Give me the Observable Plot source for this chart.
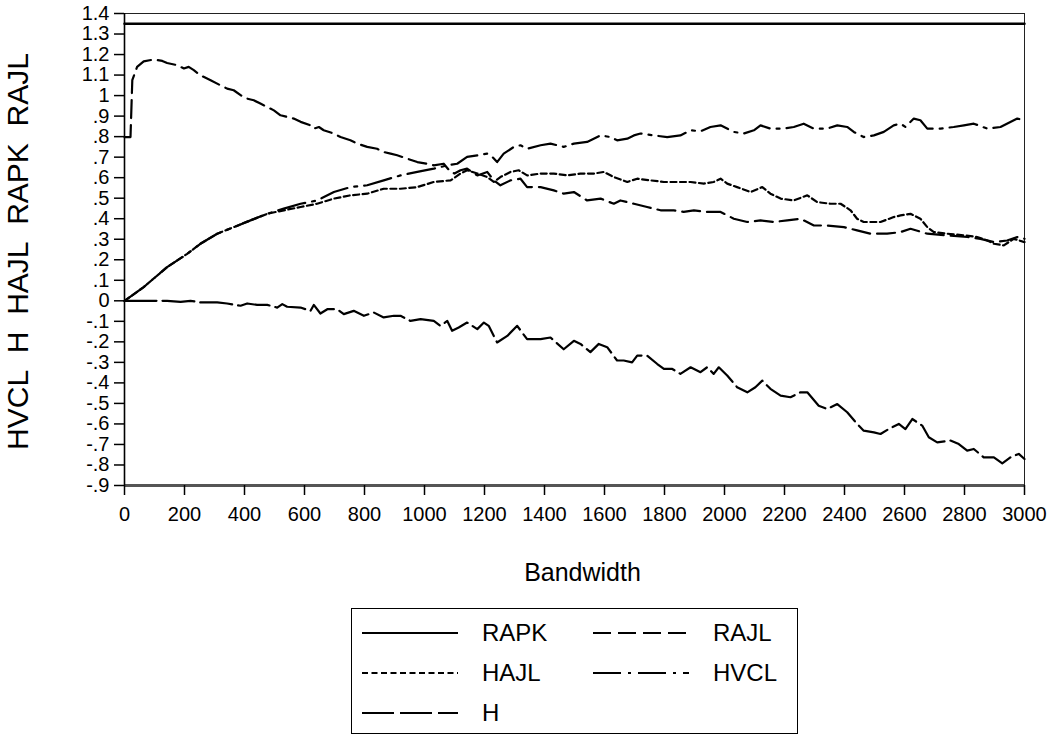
<!DOCTYPE html>
<html>
<head>
<meta charset="utf-8">
<script src="https://cdn.jsdelivr.net/npm/d3@7"></script>
<script src="https://cdn.jsdelivr.net/npm/@observablehq/plot@0.6"></script>
<style>
  html, body { margin: 0; padding: 0; background: #fff; }
  #wrap { position: relative; width: 1051px; height: 735px; font-family: "Liberation Sans", Arial, sans-serif; }
  #legend { position: absolute; left: 351px; top: 608px; }
</style>
</head>
<body>
<div id="wrap"><div id="chart"></div><svg id="legend" width="447" height="126"></svg></div>
<script>
// ---- data ----
const seriesNames = ["RAPK", "RAJL", "HAJL", "HVCL", "H"];
const xTicks = [0,200,400,600,800,1000,1200,1400,1600,1800,2000,2200,2400,2600,2800,3000];
const yTicks = [-0.9,-0.8,-0.7,-0.6,-0.5,-0.4,-0.3,-0.2,-0.1,0,0.1,0.2,0.3,0.4,0.5,0.6,0.7,0.8,0.9,1,1.1,1.2,1.3,1.4];
const xLabel = "Bandwidth";
const yLabel = "HVCL\u00a0\u00a0H\u00a0\u00a0HAJL\u00a0\u00a0RAPK\u00a0\u00a0RAJL";

const rapkBw  = [0, 3000];
const rapkVal = [1.35, 1.35];

const rajlBw  = [0,20,26,42,64,98,126,142,176,198,214,231,253,287,320,342,364,387,409,431,453,498,520,542,564,587,620,631,648,664,698,720,753,776,809,842,864,887,909,942,976,1009,1031,1064,1087,1100,1120,1142,1176,1209,1231,1253,1287,1320,1342,1387,1431,1464,1498,1542,1587,1631,1653,1698,1742,1787,1831,1864,1898,1942,1987,2031,2076,2120,2164,2209,2253,2298,2342,2398,2442,2487,2542,2587,2620,2676,2742,2809,2853,2898,2942,2976,3000];
const rajlVal = [0.798,0.798,1.075,1.14,1.167,1.176,1.169,1.159,1.148,1.132,1.14,1.124,1.099,1.075,1.05,1.034,1.026,1.002,0.985,0.977,0.961,0.928,0.904,0.896,0.888,0.872,0.855,0.839,0.847,0.831,0.815,0.798,0.782,0.766,0.75,0.741,0.725,0.717,0.709,0.693,0.676,0.668,0.66,0.668,0.628,0.62,0.636,0.644,0.611,0.628,0.587,0.563,0.587,0.595,0.554,0.554,0.538,0.522,0.53,0.489,0.498,0.473,0.489,0.473,0.457,0.441,0.441,0.433,0.441,0.433,0.433,0.4,0.384,0.392,0.384,0.392,0.4,0.367,0.367,0.359,0.343,0.327,0.327,0.335,0.351,0.327,0.319,0.311,0.302,0.286,0.294,0.311,0.302];

const hajlBw  = [0,64,142,209,253,309,364,420,476,531,587,642,698,753,809,864,920,976,1031,1087,1120,1142,1176,1209,1231,1253,1287,1314,1342,1387,1431,1476,1520,1564,1598,1631,1676,1709,1753,1798,1842,1887,1931,1964,1987,2009,2042,2087,2126,2153,2187,2231,2276,2309,2353,2387,2420,2442,2464,2520,2564,2587,2620,2653,2676,2698,2742,2798,2842,2876,2898,2931,2964,3000];
const hajlVal = [0,0.067,0.164,0.229,0.278,0.327,0.359,0.392,0.424,0.441,0.457,0.473,0.498,0.514,0.522,0.546,0.546,0.554,0.579,0.587,0.62,0.636,0.62,0.603,0.579,0.603,0.628,0.636,0.611,0.62,0.62,0.611,0.62,0.62,0.628,0.603,0.579,0.595,0.587,0.579,0.579,0.579,0.571,0.579,0.595,0.571,0.554,0.53,0.554,0.522,0.498,0.489,0.514,0.481,0.473,0.473,0.441,0.4,0.384,0.384,0.408,0.416,0.424,0.4,0.359,0.335,0.327,0.319,0.311,0.294,0.278,0.27,0.302,0.286];

const hvclBw  = [0,64,142,209,253,309,364,420,476,531,587,642,698,753,809,864,920,976,1031,1076,1109,1142,1176,1209,1226,1242,1264,1298,1320,1342,1387,1420,1464,1498,1542,1587,1620,1642,1676,1698,1720,1764,1809,1853,1887,1920,1953,1987,2031,2064,2098,2120,2153,2198,2231,2264,2298,2342,2376,2409,2431,2464,2498,2531,2564,2587,2603,2631,2653,2676,2720,2764,2798,2831,2876,2920,2976,3000];
const hvclVal = [0,0.067,0.164,0.229,0.278,0.327,0.359,0.392,0.424,0.449,0.473,0.489,0.53,0.554,0.563,0.587,0.611,0.628,0.644,0.66,0.668,0.701,0.709,0.717,0.701,0.676,0.717,0.75,0.758,0.741,0.758,0.766,0.75,0.766,0.774,0.806,0.798,0.782,0.79,0.806,0.815,0.806,0.798,0.806,0.831,0.826,0.847,0.855,0.823,0.815,0.831,0.855,0.839,0.839,0.847,0.863,0.839,0.839,0.855,0.847,0.823,0.798,0.806,0.823,0.855,0.863,0.847,0.888,0.88,0.839,0.839,0.847,0.855,0.863,0.839,0.847,0.888,0.88];

const hBw  = [0,142,187,220,253,309,342,387,409,442,476,509,526,542,587,620,631,653,676,709,731,764,798,831,864,898,920,953,987,1031,1053,1076,1092,1114,1142,1176,1198,1214,1242,1276,1309,1342,1387,1420,1464,1498,1520,1553,1581,1609,1642,1664,1692,1709,1742,1776,1798,1826,1853,1887,1920,1942,1964,1981,2009,2042,2076,2103,2126,2153,2187,2220,2253,2276,2314,2342,2376,2409,2442,2464,2498,2520,2548,2581,2603,2626,2659,2681,2709,2753,2781,2809,2831,2864,2898,2926,2953,2981,3000];
const hVal = [0,0,-0.005,0,-0.008,-0.008,-0.013,-0.024,-0.013,-0.02,-0.02,-0.033,-0.016,-0.029,-0.033,-0.049,-0.02,-0.062,-0.041,-0.041,-0.065,-0.049,-0.073,-0.057,-0.081,-0.073,-0.073,-0.098,-0.089,-0.098,-0.122,-0.098,-0.146,-0.13,-0.106,-0.138,-0.106,-0.122,-0.203,-0.171,-0.122,-0.187,-0.187,-0.179,-0.236,-0.195,-0.21,-0.25,-0.21,-0.226,-0.291,-0.291,-0.3,-0.267,-0.267,-0.308,-0.332,-0.332,-0.356,-0.324,-0.348,-0.324,-0.356,-0.324,-0.364,-0.421,-0.446,-0.421,-0.389,-0.429,-0.462,-0.47,-0.446,-0.446,-0.511,-0.527,-0.503,-0.543,-0.6,-0.633,-0.641,-0.649,-0.624,-0.6,-0.625,-0.576,-0.608,-0.665,-0.69,-0.681,-0.698,-0.73,-0.722,-0.763,-0.763,-0.792,-0.763,-0.746,-0.771];

// ---- styles ----
const dashes = { RAPK: null, RAJL: "18,7", HAJL: "6,3.5", HVCL: "28,7,3,7", H: "32,6" };
const FONT = "'Liberation Sans', Arial, sans-serif";

const toRows = (name, bw, val) => bw.map((b, i) => ({ series: name, bw: b, v: val[i] }));
const rows = {
  RAPK: toRows("RAPK", rapkBw, rapkVal),
  RAJL: toRows("RAJL", rajlBw, rajlVal),
  HAJL: toRows("HAJL", hajlBw, hajlVal),
  HVCL: toRows("HVCL", hvclBw, hvclVal),
  H: toRows("H", hBw, hVal)
};

const yFmt = d => {
  const s = String(Math.round(d * 10) / 10);
  return s.replace(/^(-?)0\./, "$1.");
};

const lineMarks = seriesNames.map(n => Plot.line(rows[n], {
  x: "bw", y: "v", stroke: "black", strokeWidth: n === "RAPK" ? 2.5 : 2.2,
  strokeDasharray: dashes[n] || undefined, strokeLinejoin: "round"
}));

const chart = Plot.plot({
  width: 1051, height: 600,
  marginTop: 13, marginBottom: 115, marginLeft: 124, marginRight: 27,
  style: { fontFamily: FONT, background: "white", color: "black", overflow: "visible" },
  x: { domain: [0, 3000] },
  y: { domain: [-0.9, 1.4] },
  marks: [
    Plot.frame({ stroke: "#222", strokeWidth: 1 }),
    Plot.ruleY([-0.9], { stroke: "#555", strokeWidth: 3 }),
    Plot.ruleX([0], { stroke: "black", strokeWidth: 1.6 }),
    Plot.axisX({ ticks: xTicks, tickSize: 10, tickPadding: 11, fontSize: 20, label: null, tickFormat: d => String(d), strokeWidth: 1.5 }),
    Plot.axisY({ ticks: yTicks, tickSize: 10, tickPadding: 5, fontSize: 20, label: null, tickFormat: yFmt, strokeWidth: 1.5 }),
    ...lineMarks,
    Plot.text([xLabel], { text: d => d, frameAnchor: "bottom", dy: 95, dx: 8, fontSize: 25, fill: "black" }),
    Plot.text([yLabel], { text: d => d, frameAnchor: "left", textAnchor: "middle", rotate: -90, dx: -106, dy: 2, fontSize: 30, fill: "black" })
  ]
});
document.getElementById("chart").appendChild(chart);

// ---- legend ----
const leg = d3.select("#legend");
leg.append("rect").attr("x", 0.5).attr("y", 0.5).attr("width", 446).attr("height", 125)
  .attr("fill", "white").attr("stroke", "black").attr("stroke-width", 1);
const legendOrder = ["RAPK", "RAJL", "HAJL", "HVCL", "H"];
legendOrder.forEach((n, i) => {
  const col = i % 2, row = Math.floor(i / 2);
  const x0 = col === 0 ? 11 : 242, y0 = 25 + row * 40;
  leg.append("line").attr("x1", x0).attr("x2", x0 + 96).attr("y1", y0).attr("y2", y0)
    .attr("stroke", "black").attr("stroke-width", 2)
    .attr("stroke-dasharray", dashes[n] || null);
  leg.append("text").attr("x", x0 + 120).attr("y", y0).attr("dy", "0.35em")
    .attr("font-size", 24).attr("font-family", FONT).attr("fill", "black").text(n);
});
</script>
</body>
</html>
